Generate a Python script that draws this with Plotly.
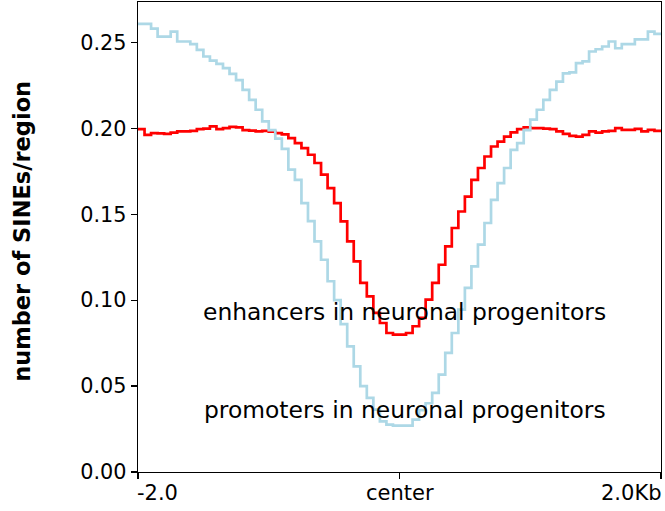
import plotly.graph_objects as go

# Bins: 80 bins of 50 bp spanning -2.0 kb .. +2.0 kb
bin_size = 50
n_bins = 80
region_start = -2000

tick_positions = [-2000, 0, 2000]
tick_labels = ["-2.0", "center", "2.0Kb"]
y_ticks = [0.0, 0.05, 0.10, 0.15, 0.20, 0.25]

enhancers = [
    0.1995, 0.1962, 0.1972, 0.1970, 0.1968, 0.1975, 0.1982, 0.1982, 0.1985, 0.1995,
    0.1998, 0.2011, 0.1995, 0.2001, 0.2008, 0.2005, 0.1990, 0.1987, 0.1982, 0.1985,
    0.1980, 0.1972, 0.1965, 0.1943, 0.1914, 0.1885, 0.1846, 0.1798, 0.1730, 0.1652,
    0.1565, 0.1458, 0.1342, 0.1226, 0.1100, 0.1022, 0.0926, 0.0867, 0.0809, 0.0799,
    0.0799, 0.0809, 0.0848, 0.0897, 0.1003, 0.1100, 0.1206, 0.1313, 0.1420, 0.1516,
    0.1603, 0.1700, 0.1769, 0.1836, 0.1894, 0.1923, 0.1952, 0.1976, 0.1995, 0.2005,
    0.2001, 0.2001, 0.1998, 0.1995, 0.1982, 0.1968, 0.1956, 0.1952, 0.1962, 0.1982,
    0.1975, 0.1982, 0.1985, 0.2001, 0.1991, 0.1991, 0.1997, 0.1982, 0.1991, 0.1985,
]

promoters = [
    0.2608, 0.2608, 0.2580, 0.2534, 0.2534, 0.2563, 0.2505, 0.2505, 0.2490, 0.2456,
    0.2418, 0.2394, 0.2375, 0.2350, 0.2317, 0.2280, 0.2224, 0.2166, 0.2108, 0.2040,
    0.1990, 0.1940, 0.1880, 0.1760, 0.1700, 0.1565, 0.1460, 0.1342, 0.1235, 0.1110,
    0.1000, 0.0860, 0.0731, 0.0615, 0.0500, 0.0431, 0.0363, 0.0295, 0.0276, 0.0270,
    0.0270, 0.0270, 0.0305, 0.0360, 0.0400, 0.0460, 0.0567, 0.0693, 0.0809, 0.0945,
    0.1071, 0.1197, 0.1323, 0.1449, 0.1584, 0.1681, 0.1769, 0.1875, 0.1914, 0.1990,
    0.2050, 0.2108, 0.2166, 0.2224, 0.2272, 0.2320, 0.2325, 0.2379, 0.2389, 0.2447,
    0.2460, 0.2476, 0.2505, 0.2466, 0.2490, 0.2490, 0.2518, 0.2518, 0.2563, 0.2550,
]

labels = ["enhancers in neuronal progenitors", "promoters in neuronal progenitors"]
label_y = [0.0933, 0.0363]

edges = [region_start + i * bin_size for i in range(n_bins + 1)]

fig = go.Figure()
fig.add_trace(go.Scatter(x=edges, y=enhancers + [enhancers[-1]], mode="lines",
                         line=dict(color="#ff0000", width=2.7, shape="hv"),
                         showlegend=False, hoverinfo="skip"))
fig.add_trace(go.Scatter(x=edges, y=promoters + [promoters[-1]], mode="lines",
                         line=dict(color="#add8e6", width=2.7, shape="hv"),
                         showlegend=False, hoverinfo="skip"))

font_family = "DejaVu Sans"

for txt, yv in zip(labels, label_y):
    fig.add_annotation(x=42, y=yv, xref="x", yref="y", text=txt, showarrow=False,
                       xanchor="center", yanchor="middle",
                       font=dict(family=font_family, size=23.4, color="black"))

anchors = ["left", "center", "right"]
shifts = [-3, 0, 3]
for pos, txt, anc, sh in zip(tick_positions, tick_labels, anchors, shifts):
    fig.add_annotation(x=pos, y=0, xref="x", yref="y", text=txt, showarrow=False,
                       xanchor=anc, yanchor="top", yshift=-7, xshift=sh,
                       font=dict(family=font_family, size=21, color="black"))

fig.add_annotation(x=-0.222, y=0.513, xref="paper", yref="paper",
                   text="<b>number of SINEs/region</b>", showarrow=False, textangle=-90,
                   xanchor="center", yanchor="middle",
                   font=dict(family=font_family, size=22.5, color="black"))

fig.update_layout(
    width=665, height=511,
    margin=dict(l=138, r=4, t=2, b=39),
    paper_bgcolor="white", plot_bgcolor="white",
    font=dict(family=font_family, size=21, color="black"),
    hovermode=False,
    xaxis=dict(range=[-2000, 2000], tickvals=tick_positions, ticktext=["", "", ""],
               showgrid=False, zeroline=False, showline=True, linecolor="black",
               linewidth=1.3, mirror=True, ticks="outside", ticklen=6, tickwidth=1.2,
               tickcolor="black"),
    yaxis=dict(range=[0, 0.2735], tickvals=y_ticks, tickformat=".2f",
               showgrid=False, zeroline=False, showline=True, linecolor="black",
               linewidth=1.3, mirror=True, ticks="outside", ticklen=6, tickwidth=1.2,
               tickcolor="black", tickfont=dict(size=20.8, color="black")),
)

fig.write_html("out.html", config={"displayModeBar": False, "staticPlot": True},
               post_script="document.body.style.margin='0';document.body.style.padding='0';document.body.style.overflow='hidden';")
